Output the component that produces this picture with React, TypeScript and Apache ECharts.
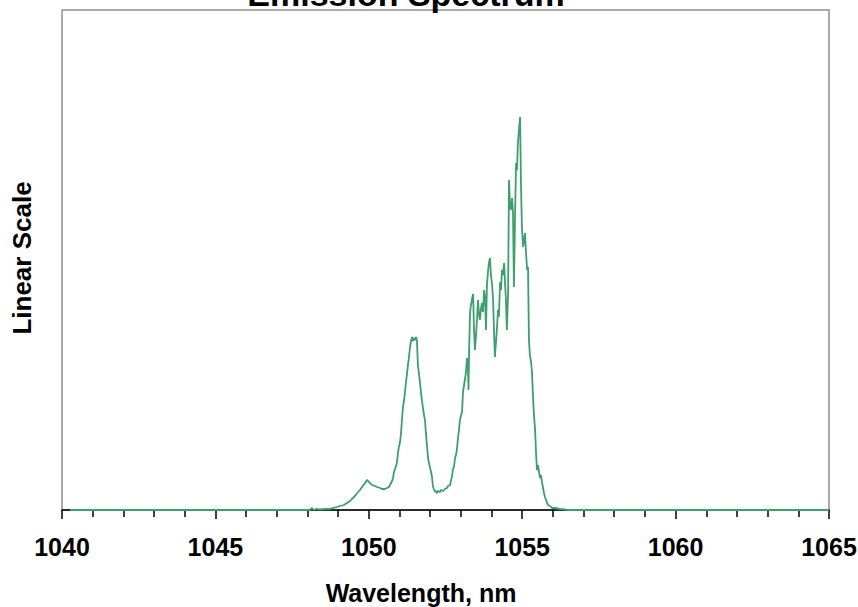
import React, { useEffect, useRef } from "react";
import * as echarts from "echarts";

const titleText = "Emission Spectrum";
const xAxisTitle = "Wavelength, nm";
const yAxisTitle = "Linear Scale";

const wavelengths: number[] = [
  1040.26, 1047.76, 1048.08, 1048.15, 1048.21, 1048.28, 1048.41, 1048.57, 1048.74, 1048.83,
  1048.96, 1049.06, 1049.19, 1049.29, 1049.39, 1049.45, 1049.55, 1049.62, 1049.71, 1049.78,
  1049.88, 1049.94, 1050.01, 1050.10, 1050.20, 1050.27, 1050.37, 1050.43, 1050.53, 1050.59,
  1050.66, 1050.69, 1050.76, 1050.79, 1050.82, 1050.89, 1050.92, 1050.95, 1050.98, 1051.02,
  1051.05, 1051.08, 1051.11, 1051.15, 1051.18, 1051.21, 1051.24, 1051.28, 1051.31, 1051.34,
  1051.37, 1051.41, 1051.44, 1051.47, 1051.51, 1051.54, 1051.57, 1051.60, 1051.64, 1051.67,
  1051.70, 1051.73, 1051.77, 1051.80, 1051.83, 1051.86, 1051.90, 1051.93, 1051.96, 1051.99,
  1052.03, 1052.06, 1052.09, 1052.12, 1052.16, 1052.19, 1052.22, 1052.25, 1052.32, 1052.35,
  1052.42, 1052.48, 1052.55, 1052.58, 1052.65, 1052.68, 1052.71, 1052.74, 1052.78, 1052.81,
  1052.84, 1052.87, 1052.91, 1052.94, 1052.97, 1053.01, 1053.04, 1053.07, 1053.10, 1053.14,
  1053.17, 1053.20, 1053.23, 1053.25, 1053.27, 1053.30, 1053.33, 1053.36, 1053.40, 1053.43,
  1053.46, 1053.49, 1053.53, 1053.56, 1053.59, 1053.62, 1053.66, 1053.69, 1053.72, 1053.76,
  1053.79, 1053.82, 1053.85, 1053.89, 1053.92, 1053.95, 1053.98, 1054.02, 1054.05, 1054.08,
  1054.11, 1054.15, 1054.18, 1054.21, 1054.24, 1054.28, 1054.31, 1054.34, 1054.37, 1054.41,
  1054.44, 1054.47, 1054.50, 1054.54, 1054.57, 1054.60, 1054.63, 1054.67, 1054.70, 1054.73,
  1054.77, 1054.80, 1054.83, 1054.86, 1054.90, 1054.93, 1054.96, 1054.99, 1055.03, 1055.06,
  1055.09, 1055.12, 1055.16, 1055.19, 1055.22, 1055.25, 1055.29, 1055.32, 1055.35, 1055.38,
  1055.42, 1055.45, 1055.48, 1055.51, 1055.55, 1055.58, 1055.61, 1055.65, 1055.68, 1055.71,
  1055.74, 1055.78, 1055.81, 1055.84, 1055.91, 1055.97, 1056.07, 1056.23, 1056.40, 1056.46,
  1065.0,
];

const intensity: number[] = [
  0, 0, 0, 2, 0, 1, 0.5, 1, 1, 2,
  3, 4, 5, 7, 9, 11, 14, 17, 20, 23,
  27, 30, 28, 25, 24, 23, 22, 21, 21, 22,
  23, 25, 29, 32, 38, 44, 48, 57, 63, 68,
  77, 90, 102, 110, 118, 127, 135, 146, 153, 162,
  168, 173, 169, 172, 170, 173, 169, 145, 135, 127,
  118, 110, 101, 95, 90, 78, 63, 52, 47, 43,
  38, 33, 24, 21, 18, 19, 17, 19, 18, 20,
  19, 21, 22, 24, 25, 30, 33, 40, 44, 52,
  55, 60, 73, 80, 90, 95, 98, 118, 124, 132,
  138, 152, 145, 120, 160, 198, 205, 210, 216, 180,
  160, 173, 192, 210, 197, 190, 202, 207, 198, 220,
  212, 180, 225, 240, 248, 252, 235, 225, 210, 180,
  153, 170, 183, 200, 193, 228, 220, 240, 235, 247,
  227, 210, 180, 217, 330, 305, 300, 312, 298, 223,
  300, 347, 340, 367, 382, 393, 327, 283, 263, 270,
  277, 260, 240, 243, 170, 155, 148, 137, 115, 97,
  80, 58, 40, 45, 38, 32, 35, 27, 22, 17,
  13, 10, 7, 5, 4, 2, 2, 1, 0.5, 0,
  0,
];

export default function App() {
  const ref = useRef<HTMLDivElement>(null);
  useEffect(() => {
    document.body.style.margin = "0";
    if (!ref.current) return;
    const chart = echarts.init(ref.current, null, { renderer: "svg" });
    const font = "'Liberation Sans', Arial, sans-serif";
    const data = wavelengths.map((w, i) => [w, intensity[i]]);
    chart.setOption({
      animation: false,
      backgroundColor: "#ffffff",
      grid: {
        left: 62,
        right: 29,
        top: 10,
        bottom: 97,
        show: true,
        borderColor: "#8f8f8f",
        borderWidth: 1.5,
        containLabel: false,
        outerBoundsMode: "none",
      },
      xAxis: {
        type: "value",
        min: 1040,
        max: 1065,
        interval: 5,
        axisLine: { show: true, lineStyle: { color: "#000", width: 1.5 } },
        axisTick: { show: true, inside: false, length: 9, lineStyle: { color: "#000", width: 1.5 } },
        minorTick: { show: true, splitNumber: 5, length: 7, lineStyle: { color: "#000", width: 1.5 } },
        splitLine: { show: false },
        minorSplitLine: { show: false },
        axisLabel: {
          fontSize: 25,
          fontWeight: "bold",
          color: "#000",
          margin: 24,
          fontFamily: font,
          formatter: (v: number) => String(v),
        },
      },
      yAxis: {
        type: "value",
        min: 0,
        max: 500,
        axisLine: { show: false },
        axisTick: { show: false },
        axisLabel: { show: false },
        splitLine: { show: false },
      },
      graphic: [
        {
          type: "text",
          x: 406,
          y: -6,
          style: {
            text: titleText,
            font: `bold 34px ${font}`,
            fill: "#000",
            textAlign: "center",
            textVerticalAlign: "middle",
          },
        },
        {
          type: "text",
          x: 421,
          y: 593,
          style: {
            text: xAxisTitle,
            font: `bold 25px ${font}`,
            fill: "#000",
            textAlign: "center",
            textVerticalAlign: "middle",
          },
        },
        {
          type: "text",
          x: 22,
          y: 258,
          rotation: Math.PI / 2,
          style: {
            text: yAxisTitle,
            font: `bold 26px ${font}`,
            fill: "#000",
            textAlign: "center",
            textVerticalAlign: "middle",
          },
        },
      ],
      series: [
        {
          type: "line",
          data,
          showSymbol: false,
          symbol: "none",
          lineStyle: { color: "#3c9f6c", width: 1.8 },
          z: 5,
        },
      ],
    });
    return () => chart.dispose();
  }, []);
  return <div ref={ref} style={{ width: 858, height: 607 }} />;
}
